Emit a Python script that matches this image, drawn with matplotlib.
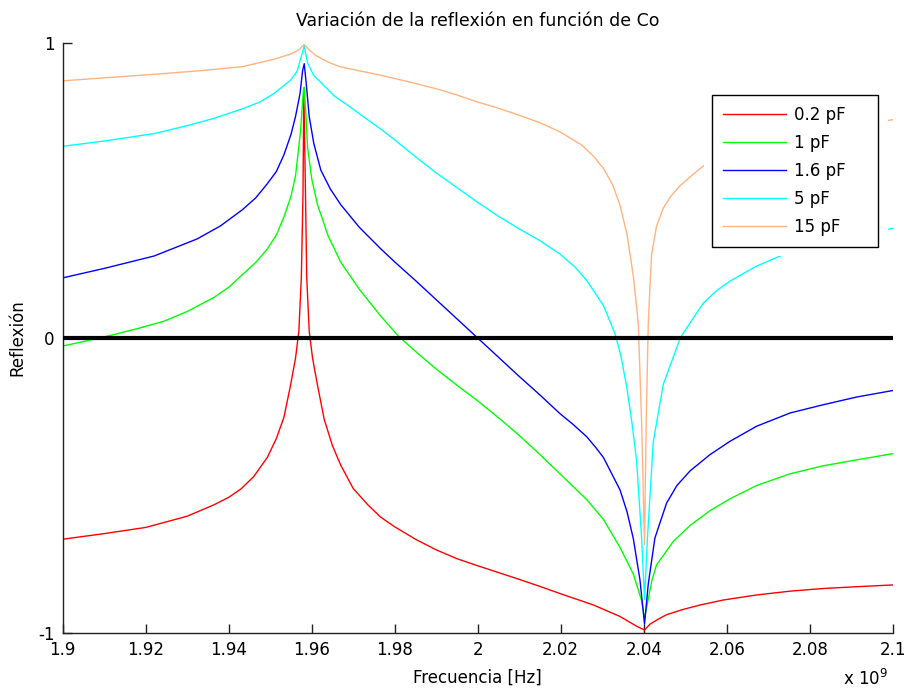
import matplotlib
matplotlib.use("Agg")
import matplotlib.pyplot as plt
from matplotlib.patches import Rectangle

plt.rcParams['font.family'] = ['DejaVu Sans']

# frecuencia en GHz (el eje lleva el factor x 10^9 aparte)
f_02 = [1.9, 1.91, 1.92, 1.93, 1.9365, 1.94, 1.943, 1.946, 1.9493, 1.9515,
        1.9533, 1.9549, 1.9561, 1.9569, 1.9575, 1.9579, 1.9581, 1.9585, 1.9588, 1.9594,
        1.9602, 1.9614, 1.963, 1.965, 1.967, 1.97, 1.9735, 1.9766, 1.98, 1.985,
        1.99, 1.995, 2.0, 2.005, 2.01, 2.015, 2.0198, 2.0279, 2.0343, 2.0383,
        2.0402, 2.0415, 2.0435, 2.0455, 2.0495, 2.0536, 2.0592, 2.0672, 2.0753, 2.0833,
        2.0913, 2.1]
r_02 = [-0.682, -0.663, -0.642, -0.604, -0.565, -0.54, -0.511, -0.47, -0.405, -0.34,
        -0.269, -0.16, -0.068, 0.023, 0.205, 0.49, 0.84, 0.49, 0.205, 0.023,
        -0.068, -0.16, -0.275, -0.365, -0.431, -0.51, -0.565, -0.607, -0.64, -0.682,
        -0.718, -0.748, -0.772, -0.795, -0.818, -0.842, -0.866, -0.905, -0.944, -0.977,
        -0.99, -0.97, -0.953, -0.938, -0.92, -0.905, -0.888, -0.871, -0.858, -0.849,
        -0.843, -0.837]

f_1 = [1.9, 1.905, 1.9124, 1.918, 1.9244, 1.93, 1.9365, 1.94, 1.9433, 1.9465,
       1.9493, 1.9515, 1.9533, 1.955, 1.9561, 1.9573, 1.958, 1.9582, 1.9586, 1.959,
       1.96, 1.9614, 1.964, 1.967, 1.9715, 1.9766, 1.981, 1.985, 1.99, 1.995,
       2.0, 2.005, 2.01, 2.015, 2.0198, 2.0263, 2.0303, 2.0343, 2.0375, 2.0395,
       2.0402, 2.0409, 2.042, 2.0431, 2.0471, 2.0512, 2.056, 2.0608, 2.0672, 2.0753,
       2.0833, 2.0913, 2.1]
r_1 = [-0.027, -0.012, 0.012, 0.032, 0.057, 0.09, 0.138, 0.172, 0.215, 0.256,
       0.302, 0.35, 0.41, 0.48, 0.55, 0.70, 0.84, 0.85, 0.76, 0.647,
       0.54, 0.452, 0.345, 0.257, 0.165, 0.075, 0.005, -0.045, -0.105, -0.16,
       -0.213, -0.27, -0.33, -0.395, -0.46, -0.548, -0.615, -0.71, -0.80, -0.89,
       -0.95, -0.899, -0.82, -0.769, -0.69, -0.635, -0.585, -0.545, -0.50, -0.46,
       -0.433, -0.413, -0.392]

f_16 = [1.9, 1.91, 1.922, 1.9324, 1.938, 1.9433, 1.9465, 1.9493, 1.9515, 1.9533,
        1.955, 1.9561, 1.9572, 1.9578, 1.9582, 1.9587, 1.9594, 1.9605, 1.9622, 1.9645,
        1.967, 1.9715, 1.9766, 1.98, 1.985, 1.99, 1.995, 2.0, 2.005, 2.01,
        2.015, 2.0198, 2.023, 2.0263, 2.0285, 2.0303, 2.0343, 2.036, 2.0375, 2.0391,
        2.0402, 2.0411, 2.0427, 2.0455, 2.048, 2.0512, 2.056, 2.0608, 2.0672, 2.0753,
        2.0833, 2.0913, 2.1]
r_16 = [0.204, 0.236, 0.278, 0.336, 0.38, 0.435, 0.475, 0.523, 0.565, 0.621,
        0.69, 0.751, 0.83, 0.906, 0.93, 0.86, 0.751, 0.66, 0.569, 0.505,
        0.452, 0.375, 0.303, 0.258, 0.195, 0.13, 0.065, 0.0, -0.065, -0.13,
        -0.193, -0.256, -0.293, -0.335, -0.372, -0.405, -0.515, -0.59, -0.68, -0.82,
        -0.97, -0.834, -0.678, -0.56, -0.50, -0.45, -0.395, -0.35, -0.299, -0.254,
        -0.226, -0.2, -0.178]

f_5 = [1.9, 1.91, 1.922, 1.93, 1.9365, 1.9433, 1.9475, 1.9509, 1.9549, 1.9565,
       1.9573, 1.9582, 1.959, 1.9605, 1.963, 1.9655, 1.9686, 1.9725, 1.9766, 1.98,
       1.985, 1.99, 1.995, 2.0, 2.005, 2.01, 2.015, 2.0198, 2.0235, 2.0263,
       2.0303, 2.0331, 2.0345, 2.0359, 2.0372, 2.0383, 2.0395, 2.0402, 2.0409, 2.0423,
       2.0447, 2.0488, 2.0512, 2.0544, 2.0575, 2.0608, 2.0672, 2.0737, 2.087, 2.1]
r_5 = [0.65, 0.668, 0.693, 0.72, 0.745, 0.777, 0.80, 0.829, 0.874, 0.905,
       0.945, 0.99, 0.932, 0.89, 0.855, 0.82, 0.79, 0.75, 0.709, 0.672,
       0.615, 0.56, 0.51, 0.46, 0.413, 0.37, 0.33, 0.285, 0.24, 0.195,
       0.11, 0.015, -0.06, -0.165, -0.29, -0.418, -0.678, -0.886, -0.678, -0.353,
       -0.158, 0.0, 0.052, 0.119, 0.16, 0.193, 0.244, 0.283, 0.33, 0.372]

f_15 = [1.9, 1.91, 1.922, 1.933, 1.9433, 1.9509, 1.955, 1.957, 1.9582, 1.9595,
        1.961, 1.964, 1.967, 1.9766, 1.983, 1.99, 1.995, 2.0, 2.005, 2.01,
        2.015, 2.0198, 2.025, 2.028, 2.0303, 2.0325, 2.0343, 2.036, 2.0375, 2.0387,
        2.0395, 2.0402, 2.0406, 2.0411, 2.0415, 2.0419, 2.0431, 2.0447, 2.0465, 2.0488,
        2.0536, 2.056, 2.07, 2.085, 2.1]
r_15 = [0.872, 0.882, 0.894, 0.906, 0.92, 0.945, 0.963, 0.978, 0.995, 0.975,
        0.958, 0.935, 0.919, 0.891, 0.87, 0.845, 0.824, 0.80, 0.779, 0.755,
        0.73, 0.699, 0.655, 0.615, 0.575, 0.52, 0.45, 0.35, 0.21, 0.049,
        -0.288, -0.70, -0.288, 0.049, 0.17, 0.283, 0.38, 0.44, 0.48, 0.517,
        0.575, 0.60, 0.67, 0.71, 0.74]

freqs = [f_02, f_1, f_16, f_5, f_15]
refl = [r_02, r_1, r_16, r_5, r_15]
labels = ['0.2 pF', '1 pF', '1.6 pF', '5 pF', '15 pF']
colors = ['#ff0000', '#00ff00', '#0000ff', '#00ffff', '#ffb380']

fig = plt.figure(figsize=(9.05, 6.91), dpi=100)
ax = fig.add_axes([0.0693, 0.0839, 0.9171, 0.8538])

lines = []
for f, r, c, lab in zip(freqs, refl, colors, labels):
    ln, = ax.plot(f, r, color=c, lw=1.0, label=lab, zorder=2)
    lines.append(ln)

# zona blanca detras de la leyenda (tapa las curvas como en el original)
ax.add_patch(Rectangle((2.0545, 0.279), 0.0443, 0.62, facecolor='white',
                       edgecolor='none', zorder=3))
ax.axhline(0, color='black', lw=3, zorder=4)

ax.set_xlim(1.9, 2.1)
ax.set_ylim(-1, 1)
ax.set_xticks([1.9, 1.92, 1.94, 1.96, 1.98, 2.0, 2.02, 2.04, 2.06, 2.08, 2.1])
ax.set_xticklabels(['1.9', '1.92', '1.94', '1.96', '1.98', '2', '2.02', '2.04',
                    '2.06', '2.08', '2.1'])
ax.set_yticks([-1, 0, 1])
ax.set_yticklabels(['-1', '0', '1'])
ax.spines['top'].set_visible(False)
ax.spines['right'].set_visible(False)
for s in ['left', 'bottom']:
    ax.spines[s].set_linewidth(1.0)
    ax.spines[s].set_color('#222222')
ax.tick_params(direction='in', length=6.5, width=1.0, labelsize=12, pad=6,
               color='#222222')

ax.set_title('Variación de la reflexión en función de Co', fontsize=12.5, pad=12)
ax.set_xlabel('Frecuencia [Hz]', fontsize=12, labelpad=7)
ax.set_ylabel('Reflexión', fontsize=12, labelpad=8)
ax.text(0.995, -0.077, r'x 10$^9$', transform=ax.transAxes, ha='right',
        va='center', fontsize=12)

leg = ax.legend(handles=lines, loc='upper left', bbox_to_anchor=(0.782, 0.656, 0.2, 0.256),
                mode='expand', borderaxespad=0, fancybox=False, edgecolor='black',
                framealpha=1, handlelength=3.8, handletextpad=0.5, fontsize=12,
                labelspacing=0.6, borderpad=0.65)
leg.get_frame().set_linewidth(1.0)
leg.set_zorder(5)

fig.savefig('out.png', dpi=100)
